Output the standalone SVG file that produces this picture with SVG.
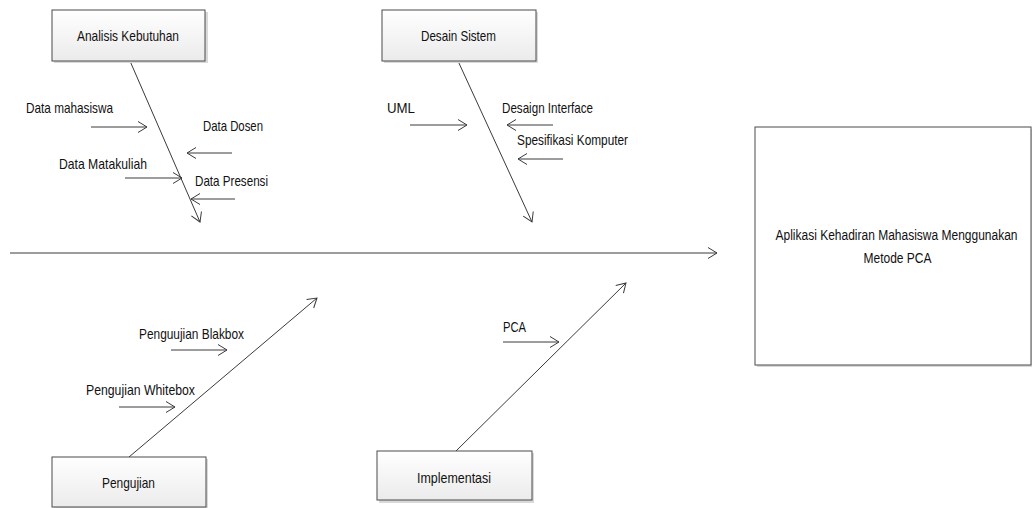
<svg xmlns="http://www.w3.org/2000/svg" width="1032" height="508" viewBox="0 0 1032 508">
<style>
.box{stroke:#4a4a4a;stroke-width:1;fill:url(#g)}
.big{stroke:#4a4a4a;stroke-width:1;fill:#fff}
.sh{fill:#d9d9d9}
.ln{stroke:#3a3a3a;stroke-width:1;fill:none;marker-end:url(#a)}
text{font-family:"Liberation Sans",Arial,sans-serif;font-size:15px;fill:#111}
.c{text-anchor:middle}
</style>
<defs>
<linearGradient id="g" x1="0" y1="0" x2="0" y2="1">
<stop offset="0" stop-color="#ffffff"/>
<stop offset="1" stop-color="#ebebeb"/>
</linearGradient>
<marker id="a" markerUnits="userSpaceOnUse" markerWidth="14" markerHeight="14" refX="10" refY="6" orient="auto" viewBox="0 0 14 12">
<path d="M1,0.5 L10,6 L1,11.5" fill="none" stroke="#3a3a3a" stroke-width="1"/>
</marker>
</defs>
<rect width="1032" height="508" fill="#fff"/>
<g id="connectors">
<line class="ln" x1="10" y1="253" x2="717" y2="253"/>
<line class="ln" x1="130" y1="61" x2="200" y2="222"/>
<line class="ln" x1="458" y1="61" x2="532" y2="222"/>
<line class="ln" x1="129" y1="457" x2="317" y2="298"/>
<line class="ln" x1="456" y1="451" x2="626" y2="283"/>
<line class="ln" x1="91" y1="127" x2="147" y2="127"/>
<line class="ln" x1="232" y1="153" x2="187" y2="153"/>
<line class="ln" x1="125" y1="178" x2="182" y2="178"/>
<line class="ln" x1="235" y1="199" x2="191" y2="199"/>
<line class="ln" x1="410" y1="125" x2="467" y2="125"/>
<line class="ln" x1="553" y1="125" x2="507" y2="125"/>
<line class="ln" x1="563" y1="159" x2="518" y2="159"/>
<line class="ln" x1="171" y1="350" x2="227" y2="350"/>
<line class="ln" x1="119" y1="407" x2="175" y2="407"/>
<line class="ln" x1="503" y1="342" x2="559" y2="342"/>
</g>
<g id="labels">
<text x="26" y="113" textLength="87" lengthAdjust="spacingAndGlyphs">Data mahasiswa</text>
<text x="203" y="131" textLength="60" lengthAdjust="spacingAndGlyphs">Data Dosen</text>
<text x="59" y="169" textLength="88" lengthAdjust="spacingAndGlyphs">Data Matakuliah</text>
<text x="195" y="186" textLength="73" lengthAdjust="spacingAndGlyphs">Data Presensi</text>
<text x="387" y="113" textLength="28" lengthAdjust="spacingAndGlyphs">UML</text>
<text x="502" y="113" textLength="91" lengthAdjust="spacingAndGlyphs">Desaign Interface</text>
<text x="517" y="145" textLength="111" lengthAdjust="spacingAndGlyphs">Spesifikasi Komputer</text>
<text x="139" y="339" textLength="105" lengthAdjust="spacingAndGlyphs">Penguujian Blakbox</text>
<text x="86" y="395" textLength="109" lengthAdjust="spacingAndGlyphs">Pengujian Whitebox</text>
<text x="503" y="332" textLength="23" lengthAdjust="spacingAndGlyphs">PCA</text>
</g>
<g id="analisis">
<rect class="sh" x="54" y="12" width="154" height="51"/>
<rect class="box" x="52" y="10" width="153" height="51"/>
<text x="77" y="41" textLength="102" lengthAdjust="spacingAndGlyphs">Analisis Kebutuhan</text>
</g>
<g id="desain">
<rect class="sh" x="384" y="12" width="154" height="51"/>
<rect class="box" x="382" y="10" width="154" height="51"/>
<text x="421" y="41" textLength="75" lengthAdjust="spacingAndGlyphs">Desain Sistem</text>
</g>
<g id="pengujian">
<rect class="sh" x="54" y="459" width="154" height="50"/>
<rect class="box" x="52" y="457" width="154" height="50"/>
<text x="102" y="488" textLength="53" lengthAdjust="spacingAndGlyphs">Pengujian</text>
</g>
<g id="implementasi">
<rect class="sh" x="379" y="453" width="155" height="50"/>
<rect class="box" x="377" y="451" width="155" height="49"/>
<text x="417" y="483" textLength="74" lengthAdjust="spacingAndGlyphs">Implementasi</text>
</g>
<g id="aplikasi">
<rect class="sh" x="757" y="129" width="275" height="238"/>
<rect class="big" x="755" y="127" width="276" height="238"/>
<text class="c" transform="translate(896.5,240) scale(0.8,1)">Aplikasi Kehadiran Mahasiswa Menggunakan</text>
<text class="c" transform="translate(897.5,263) scale(0.8,1)">Metode PCA</text>
</g>
</svg>
